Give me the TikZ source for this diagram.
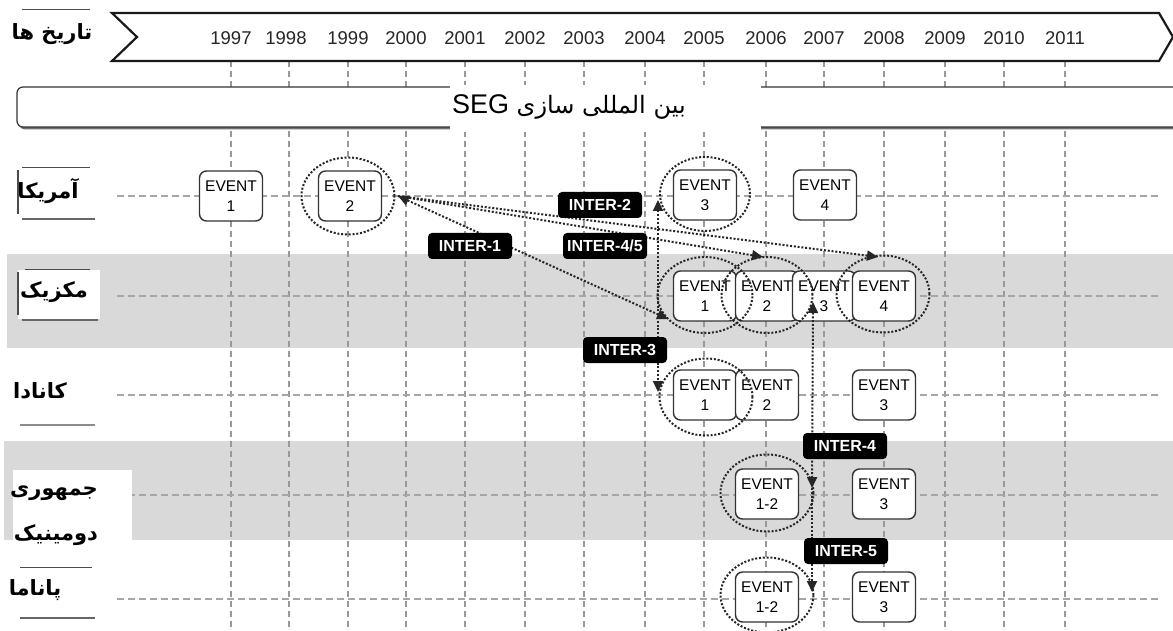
\documentclass[tikz,border=0pt]{standalone}
\usepackage{fontspec}
\setmainfont{Liberation Sans}
\newfontfamily\arabicfont[Script=Arabic]{DejaVu Sans}
\TeXXeTstate=1
\usetikzlibrary{arrows.meta,shapes.geometric}
\begin{document}
\begin{tikzpicture}[x=1pt,y=-1pt,
  gridv/.style={draw=black!40, line width=1.3pt, dash pattern=on 6pt off 4pt},
  gridh/.style={draw=black!35, line width=1.3pt, dash pattern=on 7pt off 4pt},
  band/.style={fill=black!15},
  evbox/.style={draw=black!80, fill=white, rounded corners=7pt, line width=1.4pt, minimum width=63pt, minimum height=50pt, inner sep=0pt, align=center, font=\fontsize{15.5}{19.5}\selectfont},
  ring/.style={ellipse, draw=black!85, line width=2pt, dash pattern=on 2pt off 1.8pt, minimum width=93pt, minimum height=77pt, inner sep=0pt},
  link/.style={draw=black!85, line width=2pt, dash pattern=on 2pt off 1.8pt},
  tip/.style={arrows={-Triangle[length=11pt,width=10pt]}},
  tips/.style={arrows={Triangle[length=11pt,width=10pt]-Triangle[length=11pt,width=10pt]}},
  inter/.style={fill=black, rounded corners=4pt, text=white, font=\bfseries\fontsize{16}{18}\selectfont, minimum width=84pt, minimum height=26pt, inner sep=0pt},
  yearlbl/.style={font=\fontsize{18.5}{20}\selectfont, text=black!85, inner sep=0pt},
  country/.style={font=\arabicfont\bfseries\fontsize{21}{24}\selectfont, inner sep=0pt},
  shadowline/.style={draw=black!60, line width=2.5pt},
  topline/.style={draw=black!70, line width=1pt},
]
\useasboundingbox (0,0) rectangle (1173,631);
% bands
\path[band] (7,254) rectangle (1173,348);
\path[band] (4,441) rectangle (1173,540);
% grid
\foreach \gx in {231,289,348,406,465,525,584,645,704,766,824,884,945,1004,1065}
  \draw[gridv] (\gx,61) -- (\gx,628);
\foreach \gy in {196,296,395,495,599}
  \draw[gridh] (117,\gy) -- (1160,\gy);
% banner
\draw[line width=2.2pt, draw=black!90, fill=white, line join=miter] (112,13) -- (1159,13) -- (1173,37) -- (1159,61) -- (112,61) -- (137,37) -- cycle;
\foreach \gx/\yr in {231/1997,286/1998,348/1999,406/2000,465/2001,525/2002,584/2003,645/2004,704/2005,766/2006,824/2007,884/2008,945/2009,1004/2010,1065/2011}
  \node[yearlbl] (y\yr) at (\gx,38) {\yr};
% SEG bar
\fill[black!55, rounded corners=6pt] (19,89.5) rectangle (1200,129.5);
\draw[fill=white, draw=black!80, line width=1.2pt, rounded corners=6pt] (17,87) rectangle (1200,127);
\fill[white] (450,85) rectangle (761,132);
\node[anchor=west, inner sep=0pt, font=\fontsize{27}{30}\selectfont] (seg) at (452,107)
  {\beginR{\arabicfont\fontsize{24}{26}\selectfont بین المللی سازی} \beginL SEG\endL\endR};
% labels
\fill[white] (15,10) rectangle (95,63);
\draw[topline] (22,10) -- (90,10);
\node[country] (lDates) at (52,34) {\beginR تاریخ ها\endR};

\fill[white] (18,168) rectangle (93,218);
\draw[topline] (22,168) -- (90,168);
\draw[draw=black!70, line width=1.5pt] (18,170) -- (18,214);
\draw[shadowline] (22,219) -- (95,219);
\node[country] (lUSA) at (48,191) {\beginR آمریکا\endR};

\fill[white] (18,270) rectangle (100,319);
\draw[topline] (25,270) -- (90,270);
\draw[draw=black!70, line width=1.5pt] (18,272) -- (18,315);
\draw[shadowline] (22,320) -- (98,320);
\node[country] (lMex) at (54,292) {\beginR مکزیک\endR};

\fill[white] (15,370) rectangle (97,424);
\draw[shadowline, draw=black!45] (20,425) -- (95,425);
\node[country] (lCan) at (40,391) {\beginR کانادا\endR};

\fill[white] (13,470) rectangle (132,540);
\node[country] (lDom1) at (54,493) {\beginR جمهوری\endR};
\node[country] (lDom2) at (56,535) {\beginR دومینیک\endR};

\draw[topline] (20,567) -- (92,567);
\fill[white] (12,568) rectangle (102,617);
\draw[shadowline] (20,618) -- (95,618);
\node[country] (lPan) at (35,590) {\beginR پاناما\endR};

% events
\node[evbox] (am1) at (231,196) {EVENT\\1};
\node[evbox] (am2) at (350,196) {EVENT\\2};
\node[evbox] (am3) at (705,195) {EVENT\\3};
\node[evbox] (am4) at (825,195) {EVENT\\4};
\node[evbox] (mx1) at (705,296) {EVENT\\1};
\node[evbox] (mx2) at (767,296) {EVENT\\2};
\node[evbox] (mx3) at (824,296) {EVENT\\3};
\node[evbox] (mx4) at (884,296) {EVENT\\4};
\node[evbox] (ca1) at (705,395) {EVENT\\1};
\node[evbox] (ca2) at (767,395) {EVENT\\2};
\node[evbox] (ca3) at (884,395) {EVENT\\3};
\node[evbox] (do1) at (767,494) {EVENT\\1-2};
\node[evbox] (do3) at (884,494) {EVENT\\3};
\node[evbox] (pa1) at (767,597) {EVENT\\1-2};
\node[evbox] (pa3) at (884,597) {EVENT\\3};
% rings
\node[ring] (ram2) at (348,196) {};
\node[ring, minimum width=90pt, minimum height=74pt] (ram3) at (705,194) {};
\node[ring, minimum width=95pt, minimum height=76pt] (rmx1) at (705,295) {};
\node[ring, minimum width=91pt, minimum height=76pt] (rmx2) at (767,295) {};
\node[ring] (rmx4) at (883,294) {};
\node[ring] (rca1) at (706,397) {};
\node[ring] (rdo1) at (767,493) {};
\node[ring, minimum height=75pt] (rpa1) at (767,595) {};
% connector ends
\coordinate (pA) at (398,196);
\coordinate (pM1) at (668,319);
\coordinate (pM2) at (763,257);
\coordinate (pM4) at (878,257);
\coordinate (pVt) at (658,200);
\coordinate (pVb) at (658,392);
\coordinate (pWt) at (813,302);
\coordinate (pWm) at (812,488);
\coordinate (pWb) at (812,592);
% connectors
\draw[link, tips] (pA) -- (pM1);
\draw[link, tip] (pA) -- (pM2);
\draw[link, tip] (pA) -- (pM4);
\draw[link, tips] (pVt) -- (pVb);
\draw[link, tips] (pWt) -- (pWm);
\draw[link, tip] (pWm) -- (pWb);
% inter labels
\node[inter] (i1) at (470,246) {INTER-1};
\node[inter] (i2) at (600,205) {INTER-2};
\node[inter] (i45) at (605,246) {INTER-4/5};
\node[inter] (i3) at (625,350) {INTER-3};
\node[inter] (i4) at (845,446) {INTER-4};
\node[inter] (i5) at (846,551) {INTER-5};
\end{tikzpicture}
\end{document}
